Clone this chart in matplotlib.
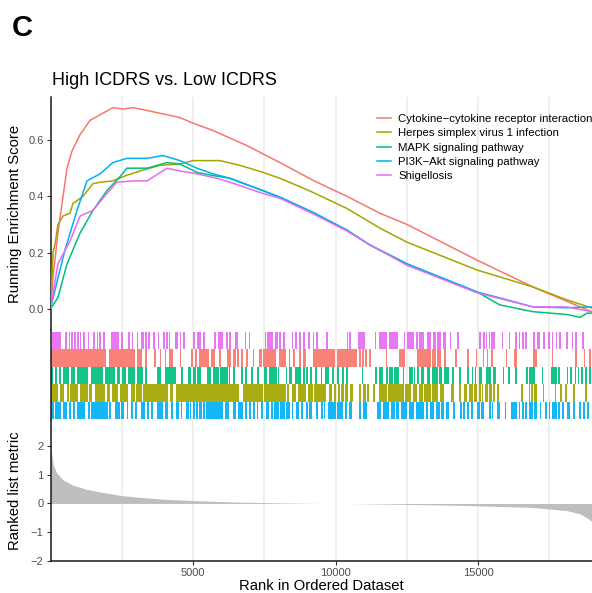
import matplotlib
matplotlib.use("Agg")
import matplotlib.pyplot as plt

plt.rcParams['font.family'] = ['Liberation Sans', 'DejaVu Sans']

# gene sets (legend order) and their ggplot hue colours
set_names = ["Cytokine\u2212cytokine receptor interaction",
             "Herpes simplex virus 1 infection",
             "MAPK signaling pathway",
             "PI3K\u2212Akt signaling pathway",
             "Shigellosis"]
set_colors = ["#F8766D", "#A3A500", "#00BF7D", "#00B0F6", "#E76BF3"]

# running enrichment score, (rank, ES)
es_cytokine = [(0, 0), (90, 0.114), (260, 0.27), (440, 0.40), (580, 0.50), (750, 0.56),
               (1040, 0.62), (1390, 0.67), (1740, 0.69), (2190, 0.715), (2550, 0.71),
               (2900, 0.715), (3390, 0.705), (4090, 0.69), (4540, 0.68), (5000, 0.66),
               (5700, 0.634), (6900, 0.58), (8050, 0.52), (9210, 0.457), (10400, 0.40),
               (11560, 0.34), (12510, 0.30), (14970, 0.173), (16930, 0.078),
               (18580, 0.007), (19000, -0.01)]
es_herpes = [(0, 0), (90, 0.2), (160, 0.23), (260, 0.30), (440, 0.33), (680, 0.34),
             (790, 0.375), (1140, 0.40), (1490, 0.445), (1740, 0.45), (2190, 0.455),
             (2680, 0.475), (3140, 0.49), (3840, 0.51), (4540, 0.515), (5000, 0.527),
             (5950, 0.527), (6650, 0.51), (7460, 0.485), (8050, 0.464), (8760, 0.434),
             (9210, 0.414), (10400, 0.357), (11560, 0.287), (12510, 0.237),
             (14970, 0.138), (16930, 0.078), (18120, 0.032), (19000, 0.003)]
es_mapk = [(0, 0), (260, 0.04), (580, 0.16), (1040, 0.27), (1490, 0.35), (1980, 0.42),
           (2440, 0.47), (2680, 0.50), (3390, 0.50), (4090, 0.52), (4540, 0.515),
           (5140, 0.485), (5700, 0.474), (6300, 0.464), (7460, 0.42), (8050, 0.397),
           (9210, 0.343), (10400, 0.28), (11210, 0.227), (12510, 0.16), (14970, 0.06),
           (15770, 0.014), (16930, -0.01), (18120, -0.02), (18580, -0.03),
           (18830, -0.015), (19000, -0.015)]
es_pi3k = [(0, 0), (260, 0.11), (510, 0.21), (930, 0.35), (1280, 0.455), (1740, 0.48),
           (2190, 0.52), (2680, 0.535), (3390, 0.535), (3950, 0.545), (4540, 0.527),
           (5140, 0.50), (5700, 0.48), (6300, 0.464), (7460, 0.42), (8050, 0.397),
           (9210, 0.343), (10400, 0.28), (11210, 0.227), (12510, 0.16), (14970, 0.06),
           (15770, 0.039), (16930, 0.007), (18120, 0.004), (19000, 0.007)]
es_shigellosis = [(0, 0), (260, 0.16), (680, 0.24), (1040, 0.33), (1490, 0.35),
                  (1980, 0.41), (2330, 0.45), (2900, 0.455), (3390, 0.455), (4090, 0.50),
                  (4540, 0.49), (5140, 0.48), (5840, 0.464), (6300, 0.45), (7460, 0.41),
                  (8050, 0.393), (9210, 0.338), (10400, 0.277), (11100, 0.234),
                  (12510, 0.155), (14970, 0.057), (16930, 0.007), (18120, 0.007),
                  (19000, -0.01)]

# gene hits, as (first rank, last rank) runs of the rug
hits_shigellosis = [(50, 380), (500, 570), (640, 680), (730, 780), (830, 900), (940, 990),
    (1040, 1080), (1130, 1200), (1320, 1360), (1500, 1570), (1620, 1670), (1710, 1780),
    (1830, 1900), (2110, 2420), (2490, 2530), (2720, 2790), (2860, 2910), (3020, 3070),
    (3190, 3280), (3330, 3380), (3420, 3490), (3610, 3680), (3770, 3820), (3940, 4010),
    (4050, 4120), (4170, 4190), (4360, 4480), (4550, 4590), (4640, 4730), (4990, 5080),
    (5130, 5280), (5340, 5410), (5480, 5500), (5740, 5790), (5880, 6070), (6160, 6230),
    (6280, 6340), (6490, 6580), (6810, 6860), (6960, 7000), (7520, 7560), (7590, 7820),
    (7870, 7970), (8030, 8100), (8170, 8240), (8480, 8520), (8570, 8660), (8730, 8800),
    (8850, 8920), (9040, 9110), (9200, 9250), (9300, 9380), (9670, 9740), (10390, 10440),
    (10490, 10560), (10790, 11050), (11380, 11420), (11540, 11820), (11890, 12190),
    (12400, 12450), (12500, 12760), (12830, 12900), (12920, 13110), (13220, 13360),
    (13430, 13530), (13570, 13690), (13760, 13860), (14020, 14070), (14280, 14350),
    (15020, 15090), (15190, 15240), (15280, 15330), (15380, 15420), (15470, 15520),
    (15540, 15610), (15840, 15890), (16080, 16120), (16310, 16360), (16430, 16480),
    (16550, 16620), (16660, 16710), (16940, 17010), (17080, 17180), (17290, 17340),
    (17460, 17510), (17580, 17620), (17720, 17760), (17830, 17900), (18090, 18160),
    (18300, 18350), (18420, 18490), (18650, 18720)]
hits_cytokine = [(0, 1960), (2040, 2950), (3050, 3210), (3300, 3380), (3630, 3700),
    (3830, 3890), (4010, 4070), (4150, 4300), (4530, 4590), (4920, 5010), (5060, 5150),
    (5220, 5570), (5640, 5760), (5900, 5970), (6180, 6330), (6390, 6510), (6530, 6630),
    (6700, 6770), (6860, 6930), (7100, 7150), (7330, 7420), (7470, 7910), (8030, 8150),
    (8170, 8270), (8360, 8410), (8520, 8590), (8730, 8800), (8870, 8970), (9200, 9970),
    (10060, 10770), (10810, 10880), (10930, 11000), (11050, 11120), (11190, 11240),
    (11770, 11820), (12220, 12450), (12850, 13340), (13370, 13530), (13570, 13690),
    (13810, 13880), (14180, 14250), (14600, 14670), (14930, 14980), (15170, 15210),
    (15310, 15350), (15450, 15520), (15980, 16030), (16260, 16380), (16940, 16990),
    (17010, 17080), (17580, 17620), (18420, 18460), (18720, 18770), (18910, 18960)]
hits_mapk = [(30, 80), (150, 220), (290, 380), (430, 640), (710, 850), (940, 1320),
    (1410, 1840), (1900, 2250), (2320, 2430), (2510, 2660), (2720, 2980), (3050, 3250),
    (3300, 3400), (3720, 3890), (4010, 4420), (4590, 4660), (4830, 4940), (4990, 5110),
    (5150, 5290), (5500, 5640), (5710, 5900), (5930, 6230), (6250, 6300), (6390, 6490),
    (6670, 6740), (6840, 6880), (7050, 7100), (7260, 7330), (7490, 7610), (7680, 7940),
    (7980, 8030), (8270, 8310), (8380, 8480), (8570, 8780), (8850, 8920), (8970, 9020),
    (9110, 9160), (9270, 9340), (9480, 9530), (9640, 9780), (9880, 9950), (10060, 10140),
    (10230, 10300), (10370, 10440), (10930, 10980), (11380, 11470), (11540, 11680),
    (11770, 11840), (11890, 12010), (12050, 12240), (12360, 12410), (12570, 12710),
    (12760, 12800), (12870, 12940), (12990, 13110), (13200, 13300), (13390, 13580),
    (13620, 13720), (13810, 13970), (14090, 14160), (14320, 14420), (14600, 14670),
    (14790, 14840), (14880, 14930), (15020, 15140), (15280, 15470), (15540, 15630),
    (15870, 15910), (16050, 16120), (16310, 16360), (16690, 16760), (16800, 16990),
    (17250, 17290), (17550, 17650), (17670, 17760), (17810, 17880), (18110, 18160),
    (18230, 18300), (18390, 18440), (18510, 18560), (18630, 18700), (18770, 18810),
    (18910, 18960)]
hits_herpes = [(30, 260), (330, 470), (570, 640), (680, 970), (1040, 1320), (1360, 1460),
    (1550, 1900), (1990, 2090), (2160, 2370), (2440, 2720), (2810, 2950), (3000, 3210),
    (3250, 4120), (4180, 4300), (4400, 6630), (6740, 7450), (7490, 8270), (8310, 8380),
    (8480, 8620), (8690, 8970), (9040, 9200), (9250, 9670), (9760, 9880), (9950, 10020),
    (10090, 10160), (10200, 10300), (10350, 10440), (10510, 10630), (10840, 10910),
    (10980, 11070), (11120, 11190), (11300, 11380), (11520, 11800), (11840, 12410),
    (12450, 12660), (12710, 12870), (12920, 13060), (13110, 13340), (13390, 13580),
    (13650, 13790), (14040, 14160), (14350, 14420), (14510, 14600), (14700, 14840),
    (14860, 14980), (15020, 15090), (15140, 15190), (15240, 15350), (15400, 15490),
    (15540, 15610), (15680, 15750), (16520, 16590), (16780, 16830), (16870, 16920),
    (16970, 17080), (17270, 17320), (17690, 17740), (17880, 17950), (18070, 18140),
    (18320, 18390), (18750, 18820)]
hits_pi3k = [(10, 120), (170, 380), (430, 570), (640, 730), (780, 870), (940, 1200),
    (1320, 1380), (1430, 2020), (2070, 2140), (2250, 2430), (2490, 2580), (2670, 2720),
    (2810, 2910), (2980, 3050), (3190, 3310), (3380, 3450), (3540, 3610), (3720, 3950),
    (4010, 4120), (4240, 4310), (4420, 4500), (4570, 4620), (4760, 4850), (4900, 4940),
    (5010, 5060), (5110, 5180), (5220, 5320), (5360, 5430), (5460, 5550), (5570, 6070),
    (6140, 6280), (6420, 6510), (6580, 6740), (6840, 6910), (6980, 7050), (7100, 7170),
    (7240, 7280), (7400, 7470), (7560, 7680), (7750, 7820), (7850, 8010), (8050, 8220),
    (8270, 8410), (8480, 8520), (8620, 8730), (8780, 8870), (8970, 9040), (9080, 9180),
    (9320, 9390), (9480, 9550), (9600, 9640), (9740, 10000), (10060, 10250),
    (10320, 10420), (10460, 10580), (10840, 10910), (10980, 11120), (11470, 11590),
    (11660, 11890), (11940, 12080), (12120, 12220), (12310, 12520), (12590, 12760),
    (12830, 12920), (12940, 13110), (13180, 13230), (13300, 13460), (13510, 13650),
    (13690, 13810), (13880, 13970), (14110, 14180), (14370, 14440), (14460, 14560),
    (14630, 14670), (14740, 14810), (14980, 15070), (15090, 15210), (15380, 15450),
    (15490, 15540), (15660, 15770), (15940, 15980), (16170, 16360), (16430, 16480),
    (16550, 16620), (16660, 16710), (16800, 16920), (16970, 17080), (17180, 17220),
    (17360, 17410), (17480, 17530), (17600, 17760), (17810, 17860), (17950, 18020),
    (18140, 18230), (18320, 18420), (18530, 18630), (18700, 18770), (18840, 18910)]

# ranked list metric
metric_rank = [0, 40, 100, 220, 450, 800, 1270, 1740, 2440, 3140, 4090, 5000, 6420,
               7600, 8760, 9500, 10400, 12270, 14620, 16930, 18120, 18580, 18820, 19000]
metric_value = [2.0, 1.75, 1.33, 1.05, 0.81, 0.63, 0.49, 0.40, 0.28, 0.21, 0.14, 0.10,
                0.05, 0.03, 0.01, 0.0, 0.0, -0.03, -0.07, -0.14, -0.25, -0.36, -0.5, -0.63]

n_genes = 19000
es_curves = [es_cytokine, es_herpes, es_mapk, es_pi3k, es_shigellosis]
# rug rows from bottom to top: PI3K, Herpes, MAPK, Cytokine, Shigellosis
rug_rows = [(hits_pi3k, 3), (hits_herpes, 1), (hits_mapk, 2), (hits_cytokine, 0),
            (hits_shigellosis, 4)]

W, H = 592, 593
fig = plt.figure(figsize=(W / 100, H / 100), dpi=100)
left = 50.5 / W
ax1 = fig.add_axes([left, 1 - 330 / H, 1 - left, 233 / H])
ax2 = fig.add_axes([left, 1 - 420 / H, 1 - left, 90 / H])
ax3 = fig.add_axes([left, 1 - 561 / H, 1 - left, 141 / H])

grid_pos = list(range(2500, n_genes, 2500))
tick_col = "#4D4D4D"
for ax in (ax1, ax2, ax3):
    ax.set_xlim(0, n_genes)
    for s in ("top", "right"):
        ax.spines[s].set_visible(False)
    ax.spines["left"].set_linewidth(1.1)
    ax.spines["left"].set_color("#1a1a1a")
    for g in grid_pos:
        ax.axvline(g, color="#EBEBEB", lw=1.1, zorder=0)

# running ES
lines = []
for curve, col, name in zip(es_curves, set_colors, set_names):
    xs = [p[0] for p in curve]
    ys = [p[1] for p in curve]
    ln, = ax1.plot(xs, ys, color=col, lw=1.1, label=name, zorder=3)
    lines.append(ln)
ax1.set_ylim(-0.075, 0.753)
ax1.set_yticks([0, 0.2, 0.4, 0.6])
ax1.set_yticklabels(["0.0", "0.2", "0.4", "0.6"])
ax1.spines["bottom"].set_visible(False)
ax1.tick_params(axis="x", bottom=False, labelbottom=False)
ax1.tick_params(axis="y", length=3, width=0.8, color="#333333", labelcolor=tick_col,
                labelsize=8, pad=2)
ax1.set_ylabel("Running Enrichment Score", fontsize=10.7)
ax1.yaxis.set_label_coords(-0.052, 0.5)
fig.legend(handles=lines, loc="upper left", bbox_to_anchor=(377 / W, 1 - 114 / H),
           frameon=False, fontsize=8.2, handlelength=1.25, handletextpad=0.6,
           labelspacing=0.38, borderpad=0, borderaxespad=0)

# rug of hits
for row, (hits, ci) in enumerate(rug_rows):
    ax2.broken_barh([(a, b - a) for a, b in hits], (row, 1), facecolors=set_colors[ci],
                    edgecolor="none", alpha=0.92, zorder=2)
ax2.set_ylim(-0.06, 5.12)
ax2.spines["bottom"].set_visible(False)
ax2.set_xticks([])
ax2.set_yticks([])

# ranked list metric
ax3.fill_between(metric_rank, metric_value, 0, color="#BEBEBE", linewidth=0, zorder=2)
ax3.set_ylim(-2, 2.9)
ax3.set_yticks([-2, -1, 0, 1, 2])
ax3.set_xticks([5000, 10000, 15000])
ax3.spines["bottom"].set_linewidth(1.1)
ax3.spines["bottom"].set_color("#1a1a1a")
ax3.tick_params(length=3, width=0.8, color="#333333", labelcolor=tick_col,
                labelsize=8, pad=2)
ax3.set_ylabel("Ranked list metric", fontsize=10.7)
ax3.yaxis.set_label_coords(-0.052, 0.5)
ax3.set_xlabel("Rank in Ordered Dataset", fontsize=10.7)
ax3.xaxis.set_label_coords(0.5, -0.128)

fig.text(52 / W, 1 - 85 / H, "High ICDRS vs. Low ICDRS", fontsize=13, va="baseline")
fig.text(12 / W, 1 - 36 / H, "C", fontsize=21, fontweight="bold", va="baseline")

fig.savefig("out.png", dpi=100)
